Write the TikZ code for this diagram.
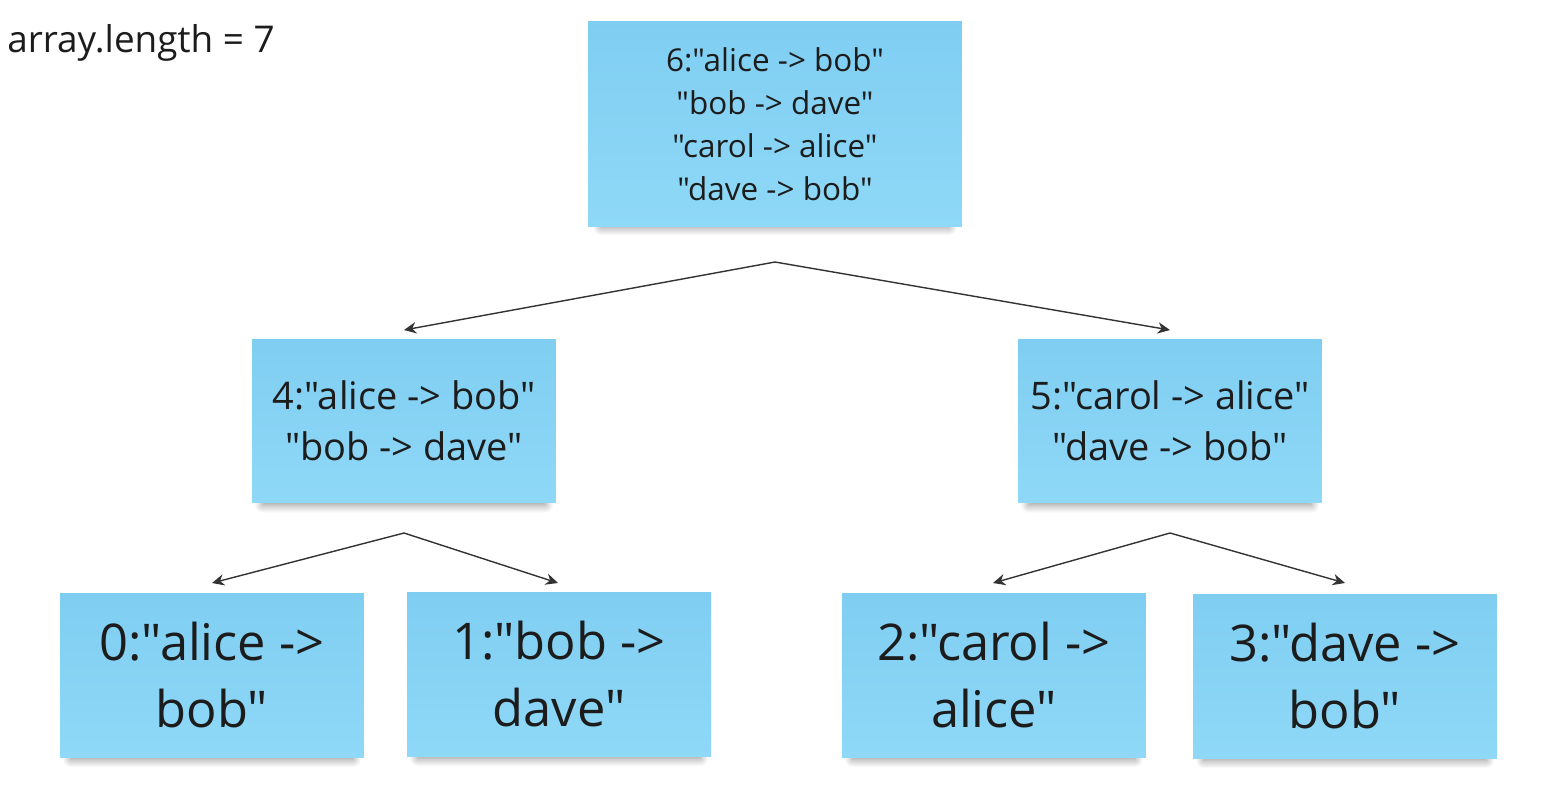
\documentclass[tikz,border=0pt]{standalone}
\usepackage{fontspec}
\setmainfont{Open Sans}[Ligatures=TeXOff]
\usetikzlibrary{arrows.meta,shadows.blur}
\definecolor{notetop}{HTML}{7FCEF2}
\definecolor{notebot}{HTML}{8FD8F7}
\definecolor{inkgray}{HTML}{333333}
\definecolor{textdark}{HTML}{1C1C1C}

\begin{document}
\begin{tikzpicture}[
    x=0.02cm, y=-0.02cm,
    note/.style={inner sep=0pt, align=center, text=textdark,
      top color=notetop, bottom color=notebot,
      blur shadow={shadow xshift=0pt, shadow yshift=-5pt,
        shadow scale=0.93, shadow opacity=45, shadow blur steps=14,
        shadow blur radius=5pt}},
    topnote/.style={note, minimum width=7.48cm, minimum height=4.1cm,
      font=\fontsize{17.9}{24.4}\selectfont},
    midnote/.style={note, minimum width=6.08cm, minimum height=3.26cm,
      font=\fontsize{21.6}{28.9}\selectfont},
    leafnote/.style={note, minimum width=6.08cm, minimum height=3.28cm,
      font=\fontsize{28.8}{38.6}\selectfont},
    arr/.style={-{Stealth[length=7pt, width=6.5pt]}, inkgray, line width=0.8pt},
  ]
    \useasboundingbox (0,0) rectangle (1547,789);

    % label
    \node[anchor=base west, inner sep=0pt, text=textdark,
      font=\fontsize{21}{26}\selectfont] (len) at (7,52) {array.length = 7};

    % root
    \node[topnote] (n6) at (775,124)
      {6:"alice -> bob"\\"bob -> dave"\\"carol -> alice"\\"dave -> bob"};

    % level 1
    \node[midnote] (n4) at (404,421) {4:"alice -> bob"\\"bob -> dave"};
    \node[midnote] (n5) at (1170,421) {5:"carol -> alice"\\"dave -> bob"};

    % leaves
    \node[leafnote] (n0) at (212,675) {0:"alice ->\\bob"};
    \node[leafnote] (n1) at (559,674) {1:"bob ->\\dave"};
    \node[leafnote] (n2) at (994,675) {2:"carol ->\\alice"};
    \node[leafnote] (n3) at (1345,676) {3:"dave ->\\bob"};

    % arrow ends
    \coordinate (s6) at (775,262);
    \coordinate (e4) at (404,330);
    \coordinate (e5) at (1170,330);
    \coordinate (s4) at (404,533);
    \coordinate (s5) at (1170,533);
    \coordinate (e0) at (212,583);
    \coordinate (e1) at (558,583);
    \coordinate (e2) at (993,583);
    \coordinate (e3) at (1345,583);

    \draw[arr] (s6) -- (e4);
    \draw[arr] (s6) -- (e5);
    \draw[arr] (s4) -- (e0);
    \draw[arr] (s4) -- (e1);
    \draw[arr] (s5) -- (e2);
    \draw[arr] (s5) -- (e3);
\end{tikzpicture}
\end{document}
